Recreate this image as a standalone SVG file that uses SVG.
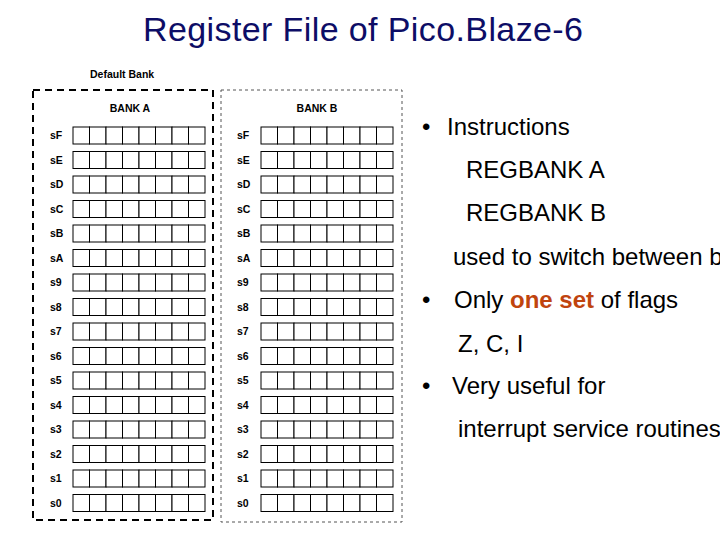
<svg xmlns="http://www.w3.org/2000/svg" width="720" height="540" viewBox="0 0 720 540">
<style>
.t{font-family:"Liberation Sans",Arial,sans-serif}
.lb{font-family:"Liberation Sans",Arial,sans-serif;font-size:10.5px;font-weight:bold;fill:#000}
.c{fill:#fff;stroke:#000;stroke-width:1}
.r{font-family:"Liberation Sans",Arial,sans-serif;font-size:24px;fill:#000}
</style>
<defs>
<g id="row">
<rect class="c" x="0" y="0" width="16.5" height="17"/><rect class="c" x="16.5" y="0" width="16.5" height="17"/><rect class="c" x="33" y="0" width="16.5" height="17"/><rect class="c" x="49.5" y="0" width="16.5" height="17"/><rect class="c" x="66" y="0" width="16.5" height="17"/><rect class="c" x="82.5" y="0" width="16.5" height="17"/><rect class="c" x="99" y="0" width="16.5" height="17"/><rect class="c" x="115.5" y="0" width="16.5" height="17"/>
</g>
</defs>
<rect width="720" height="540" fill="#fff"/>
<text class="t" x="363" y="41" font-size="34" text-anchor="middle" textLength="440" fill="#0d0d66">Register File of Pico.Blaze-6</text>
<g id="bankA">
<text class="lb" x="90" y="78">Default Bank</text>
<rect x="33" y="90" width="180" height="430" fill="none" stroke="#000" stroke-width="2" stroke-dasharray="7,5"/>
<text class="lb" x="130" y="112" text-anchor="middle">BANK A</text>
</g>
<g id="bankB">
<rect x="221" y="90" width="181" height="432" fill="none" stroke="#555" stroke-width="1" stroke-dasharray="3,3"/>
<text class="lb" x="317" y="112" text-anchor="middle">BANK B</text>
</g>
<g id="regsA">
<use href="#row" x="73" y="127"/><text class="lb" x="50" y="139">sF</text>
<use href="#row" x="73" y="151.5"/><text class="lb" x="50" y="163.5">sE</text>
<use href="#row" x="73" y="176"/><text class="lb" x="50" y="188">sD</text>
<use href="#row" x="73" y="200.5"/><text class="lb" x="50" y="212.5">sC</text>
<use href="#row" x="73" y="225"/><text class="lb" x="50" y="237">sB</text>
<use href="#row" x="73" y="249.5"/><text class="lb" x="50" y="261.5">sA</text>
<use href="#row" x="73" y="274"/><text class="lb" x="50" y="286">s9</text>
<use href="#row" x="73" y="298.5"/><text class="lb" x="50" y="310.5">s8</text>
<use href="#row" x="73" y="323"/><text class="lb" x="50" y="335">s7</text>
<use href="#row" x="73" y="347.5"/><text class="lb" x="50" y="359.5">s6</text>
<use href="#row" x="73" y="372"/><text class="lb" x="50" y="384">s5</text>
<use href="#row" x="73" y="396.5"/><text class="lb" x="50" y="408.5">s4</text>
<use href="#row" x="73" y="421"/><text class="lb" x="50" y="433">s3</text>
<use href="#row" x="73" y="445.5"/><text class="lb" x="50" y="457.5">s2</text>
<use href="#row" x="73" y="470"/><text class="lb" x="50" y="482">s1</text>
<use href="#row" x="73" y="494.5"/><text class="lb" x="50" y="506.5">s0</text>
</g>
<g id="regsB">
<use href="#row" x="261" y="127"/><text class="lb" x="237" y="139">sF</text>
<use href="#row" x="261" y="151.5"/><text class="lb" x="237" y="163.5">sE</text>
<use href="#row" x="261" y="176"/><text class="lb" x="237" y="188">sD</text>
<use href="#row" x="261" y="200.5"/><text class="lb" x="237" y="212.5">sC</text>
<use href="#row" x="261" y="225"/><text class="lb" x="237" y="237">sB</text>
<use href="#row" x="261" y="249.5"/><text class="lb" x="237" y="261.5">sA</text>
<use href="#row" x="261" y="274"/><text class="lb" x="237" y="286">s9</text>
<use href="#row" x="261" y="298.5"/><text class="lb" x="237" y="310.5">s8</text>
<use href="#row" x="261" y="323"/><text class="lb" x="237" y="335">s7</text>
<use href="#row" x="261" y="347.5"/><text class="lb" x="237" y="359.5">s6</text>
<use href="#row" x="261" y="372"/><text class="lb" x="237" y="384">s5</text>
<use href="#row" x="261" y="396.5"/><text class="lb" x="237" y="408.5">s4</text>
<use href="#row" x="261" y="421"/><text class="lb" x="237" y="433">s3</text>
<use href="#row" x="261" y="445.5"/><text class="lb" x="237" y="457.5">s2</text>
<use href="#row" x="261" y="470"/><text class="lb" x="237" y="482">s1</text>
<use href="#row" x="261" y="494.5"/><text class="lb" x="237" y="506.5">s0</text>
</g>
<g id="notes">
<text class="r" x="422" y="135">•</text><text class="r" x="447" y="135">Instructions</text>
<text class="r" x="466" y="178">REGBANK A</text>
<text class="r" x="466" y="221">REGBANK B</text>
<text class="r" x="453" y="265">used to switch between b</text>
<text class="r" x="422" y="308">•</text><text class="r" x="454" y="308">Only <tspan fill="#c0440e" font-weight="bold">one set</tspan> of flags</text>
<text class="r" x="458" y="352">Z, C, I</text>
<text class="r" x="422" y="394">•</text><text class="r" x="452" y="394">Very useful for</text>
<text class="r" x="458" y="437">interrupt service routines</text>
</g>
</svg>
